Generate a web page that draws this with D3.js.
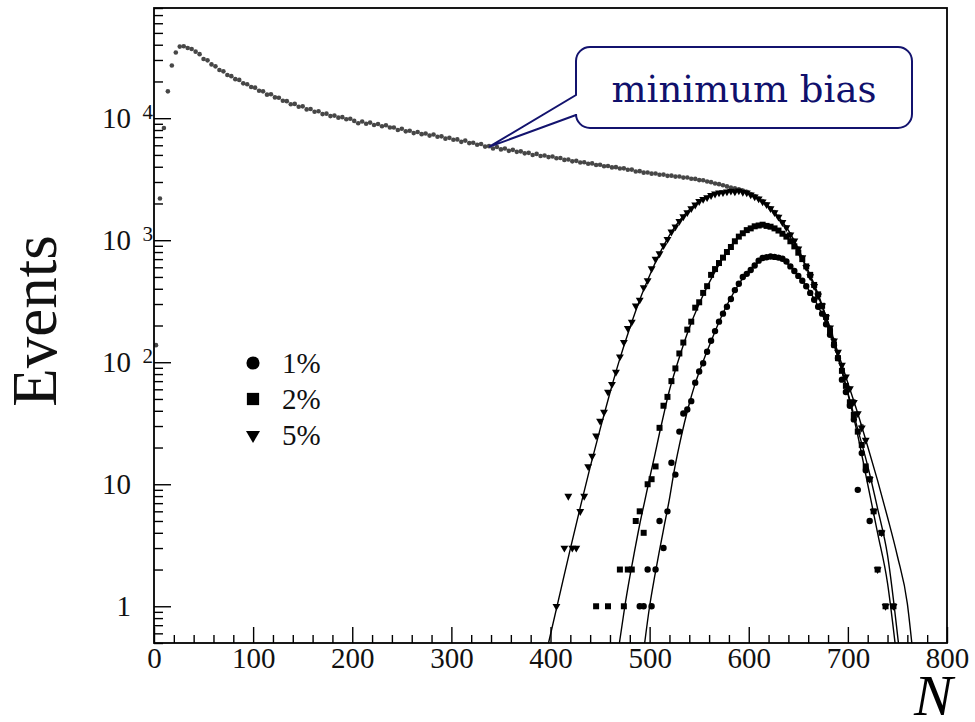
<!DOCTYPE html>
<html>
<head>
<meta charset="utf-8">
<script src="https://cdn.jsdelivr.net/npm/d3@7"></script>
<style>
body { margin: 0; background: #fff; }
svg text { font-family: "Liberation Serif", "Times New Roman", serif; }
svg text.callout-text { font-family: "DejaVu Serif", serif; }
</style>
</head>
<body>
<div id="chart"></div>
<script>
// histogram bins are 4 wide in N, each series starts at its first bin centre
const binWidth = 4;

const minBiasStart = 2;
const minBias = [
    138, 2200, 8300, 16600, 27000, 34500, 38600, 38900, 37600, 36900,
    35100, 33500, 30600, 29800, 27600, 26600, 24800, 24200, 22600, 22100,
    20900, 20600, 19300, 19000, 18000, 17800, 16800, 16600, 15600, 15700,
    14800, 14700, 13900, 13800, 13000, 13100, 12400, 12500, 11800, 11900,
    11300, 11400, 10800, 10900, 10400, 10500, 10100, 10200, 9800, 9900,
    9500, 9100, 9400, 9000, 9200, 8800, 8950, 8600, 8750, 8400,
    8400, 8000, 8200, 7800, 7900, 7550, 7700, 7400, 7500, 7200,
    7350, 7050, 7100, 6800, 6900, 6650, 6700, 6400, 6550, 6250,
    6300, 6050, 6150, 5850, 5900, 5650, 5800, 5550, 5650, 5400,
    5500, 5300, 5350, 5150, 5200, 5000, 5100, 4900, 4950, 4800,
    4850, 4700, 4720, 4550, 4580, 4430, 4470, 4330, 4360, 4230,
    4260, 4140, 4150, 4040, 4060, 3950, 3970, 3870, 3880, 3780,
    3790, 3660, 3680, 3580, 3590, 3510, 3520, 3440, 3450, 3370,
    3380, 3320, 3330, 3260, 3270, 3190, 3180, 3110, 3100, 3030,
    2990, 2920, 2880, 2820, 2760, 2700, 2660, 2610, 2550, 2490,
    2390, 2300, 2200, 2090, 1970, 1830, 1700, 1560, 1410, 1270,
    1120, 990, 855, 725, 610, 510, 425, 350, 290, 234,
    192, 152, 121, 95, 76, 61, 48, 38, 30, 23,
    11, 6, 2, 4, 1, 0, 1
];

const cent5Start = 406;
const cent5 = [
    1, 0, 3, 8, 3, 3, 6, 8, 14, 17,
    25, 33, 39, 57, 66, 83, 111, 146, 190, 214,
    290, 324, 410, 468, 585, 700, 776, 905, 1020, 1170,
    1290, 1430, 1560, 1690, 1820, 1950, 2080, 2170, 2240, 2330,
    2400, 2450, 2460, 2500, 2530, 2500, 2540, 2480, 2450, 2360,
    2270, 2190, 2070, 1960, 1820, 1690, 1550, 1400, 1270, 1110,
    990, 850, 720, 600, 505, 420, 350, 290, 232, 192,
    150, 121, 95, 76, 61, 47, 38, 29, 23, 11,
    6, 2, 4, 1, 0, 1
];

const cent2Start = 446;
const cent2 = [
    1, 0, 0, 1, 0, 0, 2, 1, 2, 2,
    5, 6, 4, 10, 11, 14, 29, 44, 52, 70,
    89, 118, 145, 185, 215, 280, 310, 370, 420, 520,
    580, 650, 720, 800, 880, 980, 1070, 1140, 1210, 1250,
    1300, 1320, 1340, 1310, 1290, 1250, 1200, 1130, 1070, 980,
    890, 790, 700, 610, 520, 430, 360, 290, 235, 180,
    140, 108, 85, 64, 47, 37, 27, 21, 14, 11,
    6, 2, 4, 1, 0, 1
];

const cent1Start = 490;
const cent1 = [
    1, 1, 2, 1, 2, 5, 3, 6, 15, 12,
    27, 38, 41, 48, 68, 84, 98, 122, 150, 180,
    215, 250, 285, 330, 390, 440, 500, 530, 570, 620,
    680, 715, 725, 735, 730, 720, 705, 670, 610, 560,
    510, 465, 420, 370, 325, 285, 250, 205, 168, 138,
    108, 72, 57, 44, 34, 9, 18, 13, 5
];

// fitted curves, [N, events]
const fit5 = [
    [398, 0.5], [410, 1.32], [420, 2.95], [430, 6.46], [440, 13.8], [450, 28.2],
    [460, 56.2], [470, 107], [480, 191], [490, 324], [500, 513], [510, 776],
    [520, 1096], [530, 1445], [540, 1778], [550, 2089], [560, 2317], [570, 2455],
    [580, 2512], [590, 2512], [600, 2399], [610, 2188], [620, 1905], [630, 1549],
    [640, 1202], [650, 851], [660, 550], [670, 347], [680, 214], [690, 120],
    [700, 67.6], [710, 38.0], [720, 20.4], [730, 10.7], [740, 5.37], [750, 2.57],
    [760, 1.05], [764.5, 0.5]
];
const fit2 = [
    [469.5, 0.5], [475, 1.0], [480, 1.74], [485, 2.88], [490, 4.68], [495, 7.24],
    [500, 11.2], [505, 17.0], [510, 26.3], [515, 39.8], [520, 58.9], [525, 81.3],
    [530, 110], [540, 191], [550, 302], [560, 447], [570, 631], [580, 851],
    [590, 1072], [600, 1230], [610, 1318], [615, 1334], [620, 1303], [630, 1202],
    [640, 1023], [650, 794], [660, 562], [670, 363], [680, 209], [690, 112],
    [700, 56.2], [710, 28.2], [720, 14.1], [730, 6.31], [740, 2.63], [751, 0.5]
];
const fit1 = [
    [495, 0.5], [500, 1.0], [505, 1.74], [510, 2.88], [515, 4.68], [520, 7.59],
    [525, 13.2], [530, 20.9], [535, 31.6], [540, 45.7], [545, 63.1], [550, 83.2],
    [555, 107], [560, 135], [570, 214], [580, 316], [590, 437], [600, 562],
    [610, 661], [620, 724], [625, 733], [630, 724], [640, 631], [650, 513],
    [660, 398], [670, 288], [680, 191], [690, 110], [700, 55.0], [710, 25.1],
    [720, 10], [730, 3.98], [740, 1.55], [747.6, 0.5]
];

const xTicks = [0, 100, 200, 300, 400, 500, 600, 700, 800];
const yMajor = [1, 10, 100, 1000, 10000];
const legendLabels = ["1%", "2%", "5%"];
const annotationText = "minimum bias";
const annotationPoint = [338, 5820];

const margin = {top: 8, right: 28, bottom: 79, left: 154},
    width = 975 - margin.left - margin.right,
    height = 722 - margin.top - margin.bottom;

const x = d3.scaleLinear().domain([0, 800]).range([0, width]);
const y = d3.scaleLog().domain([0.5, 8e4]).range([height, 0]);

const svgRoot = d3.select("#chart")
    .append("svg")
    .attr("width", 975)
    .attr("height", 722);

const svg = svgRoot.append("g")
    .attr("transform", "translate(" + margin.left + "," + margin.top + ")");

svg.append("clipPath")
    .attr("id", "plotclip")
    .append("rect")
    .attr("width", width)
    .attr("height", height);

function toPoints(start, values) {
    return values.map((v, i) => ({n: start + i * binWidth, v: v})).filter(d => d.v > 0);
}

const plot = svg.append("g").attr("clip-path", "url(#plotclip)");

// minimum bias
plot.selectAll(".mb")
    .data(toPoints(minBiasStart, minBias))
    .enter().append("circle")
    .attr("class", "mb")
    .attr("cx", d => x(d.n))
    .attr("cy", d => y(d.v))
    .attr("r", 2.3)
    .style("fill", "#474747");

const symTri = d3.symbol().type(d3.symbolTriangle).size(27);
const symSq = d3.symbol().type(d3.symbolSquare).size(36);
const symCirc = d3.symbol().type(d3.symbolCircle).size(32);

plot.selectAll(".c5")
    .data(toPoints(cent5Start, cent5))
    .enter().append("path")
    .attr("class", "c5")
    .attr("d", symTri)
    .attr("transform", d => "translate(" + x(d.n) + "," + y(d.v) + ") rotate(180)")
    .style("fill", "#000");

plot.selectAll(".c2")
    .data(toPoints(cent2Start, cent2))
    .enter().append("path")
    .attr("class", "c2")
    .attr("d", symSq)
    .attr("transform", d => "translate(" + x(d.n) + "," + y(d.v) + ")")
    .style("fill", "#000");

plot.selectAll(".c1")
    .data(toPoints(cent1Start, cent1))
    .enter().append("path")
    .attr("class", "c1")
    .attr("d", symCirc)
    .attr("transform", d => "translate(" + x(d.n) + "," + y(d.v) + ")")
    .style("fill", "#000");

const line = d3.line()
    .x(d => x(d[0]))
    .y(d => y(d[1]))
    .curve(d3.curveMonotoneX);

for (const fit of [fit5, fit2, fit1]) {
    plot.append("path")
        .datum(fit)
        .attr("d", line)
        .style("fill", "none")
        .style("stroke", "#000")
        .style("stroke-width", 1.4);
}

// axes: ticks point inward, labels drawn by separate tick-less axes
const yMinor = y.ticks().filter(v => !yMajor.includes(v));

svg.append("g")
    .call(d3.axisRight(y).tickValues(yMajor).tickSize(17).tickFormat(""))
    .call(g => g.select(".domain").remove())
    .selectAll("line").style("stroke-width", 1.4);
svg.append("g")
    .call(d3.axisRight(y).tickValues(yMinor).tickSize(9).tickFormat(""))
    .call(g => g.select(".domain").remove())
    .selectAll("line").style("stroke-width", 1.4);

svg.append("g")
    .attr("transform", "translate(0," + height + ")")
    .call(d3.axisTop(x).tickValues(xTicks).tickSize(16).tickFormat(""))
    .call(g => g.select(".domain").remove())
    .selectAll("line").style("stroke-width", 1.4);
svg.append("g")
    .attr("transform", "translate(0," + height + ")")
    .call(d3.axisTop(x).tickValues(x.ticks(40).filter(v => !xTicks.includes(v))).tickSize(8).tickFormat(""))
    .call(g => g.select(".domain").remove())
    .selectAll("line").style("stroke-width", 1.4);

const xLab = svg.append("g")
    .attr("transform", "translate(0," + height + ")")
    .call(d3.axisBottom(x).tickValues(xTicks).tickSize(0).tickPadding(4).tickFormat(d3.format("d")));
xLab.select(".domain").remove();
xLab.selectAll("text")
    .attr("font-size", 29)
    .style("fill", "#111");

const yLab = svg.append("g")
    .call(d3.axisLeft(y).tickValues(yMajor).tickSize(0).tickPadding(23)
        .tickFormat(d => d >= 100 ? "10" : d3.format("d")(d)));
yLab.select(".domain").remove();
yLab.selectAll("text")
    .attr("font-size", 29)
    .style("fill", "#111")
    .each(function (d) {
        if (d >= 100) {
            d3.select(this).append("tspan")
                .attr("x", -1)
                .attr("dy", "-0.45em")
                .attr("font-size", 21)
                .text(Math.round(Math.log10(d)));
        }
    });

// frame
svg.append("rect")
    .attr("width", width)
    .attr("height", height)
    .style("fill", "none")
    .style("stroke", "#000")
    .style("stroke-width", 1.8);

// axis titles
svgRoot.append("text")
    .attr("transform", "translate(56,321) rotate(-90)")
    .attr("text-anchor", "middle")
    .attr("font-size", 63)
    .style("fill", "#111")
    .text("Events");

svgRoot.append("text")
    .attr("x", 914)
    .attr("y", 715)
    .attr("font-size", 58)
    .attr("font-style", "italic")
    .style("fill", "#000")
    .text("N");

// legend
const legendSymbols = [
    d3.symbol().type(d3.symbolCircle).size(135),
    d3.symbol().type(d3.symbolSquare).size(150),
    d3.symbol().type(d3.symbolTriangle).size(85)
];
const legend = svgRoot.append("g").attr("transform", "translate(253,363)");
legendLabels.forEach((lab, i) => {
    legend.append("path")
        .attr("d", legendSymbols[i])
        .attr("transform", "translate(0," + (i * 36) + ")" + (i === 2 ? " rotate(180)" : ""))
        .style("fill", "#000");
    legend.append("text")
        .attr("x", 29)
        .attr("y", i * 36 + 10)
        .attr("font-size", 29)
        .style("fill", "#111")
        .text(lab);
});

// callout for the minimum bias curve
const tip = [margin.left + x(annotationPoint[0]), margin.top + y(annotationPoint[1])];
const bx0 = 576, by0 = 47, bx1 = 912, by1 = 128, r = 14;
const callout = d3.path();
callout.moveTo(bx0 + r, by0);
callout.lineTo(bx1 - r, by0);
callout.arcTo(bx1, by0, bx1, by0 + r, r);
callout.lineTo(bx1, by1 - r);
callout.arcTo(bx1, by1, bx1 - r, by1, r);
callout.lineTo(bx0 + r, by1);
callout.arcTo(bx0, by1, bx0, by1 - r, r);
callout.lineTo(bx0, 115);
callout.lineTo(tip[0], tip[1]);
callout.lineTo(bx0, 95);
callout.lineTo(bx0, by0 + r);
callout.arcTo(bx0, by0, bx0 + r, by0, r);
callout.closePath();

svgRoot.append("path")
    .attr("d", callout.toString())
    .style("fill", "#fff")
    .style("stroke", "#13136e")
    .style("stroke-width", 2);

svgRoot.append("text")
    .attr("class", "callout-text")
    .attr("x", (bx0 + bx1) / 2)
    .attr("y", 102)
    .attr("text-anchor", "middle")
    .attr("font-size", 37)
    .style("fill", "#10106c")
    .text(annotationText);
</script>
</body>
</html>
